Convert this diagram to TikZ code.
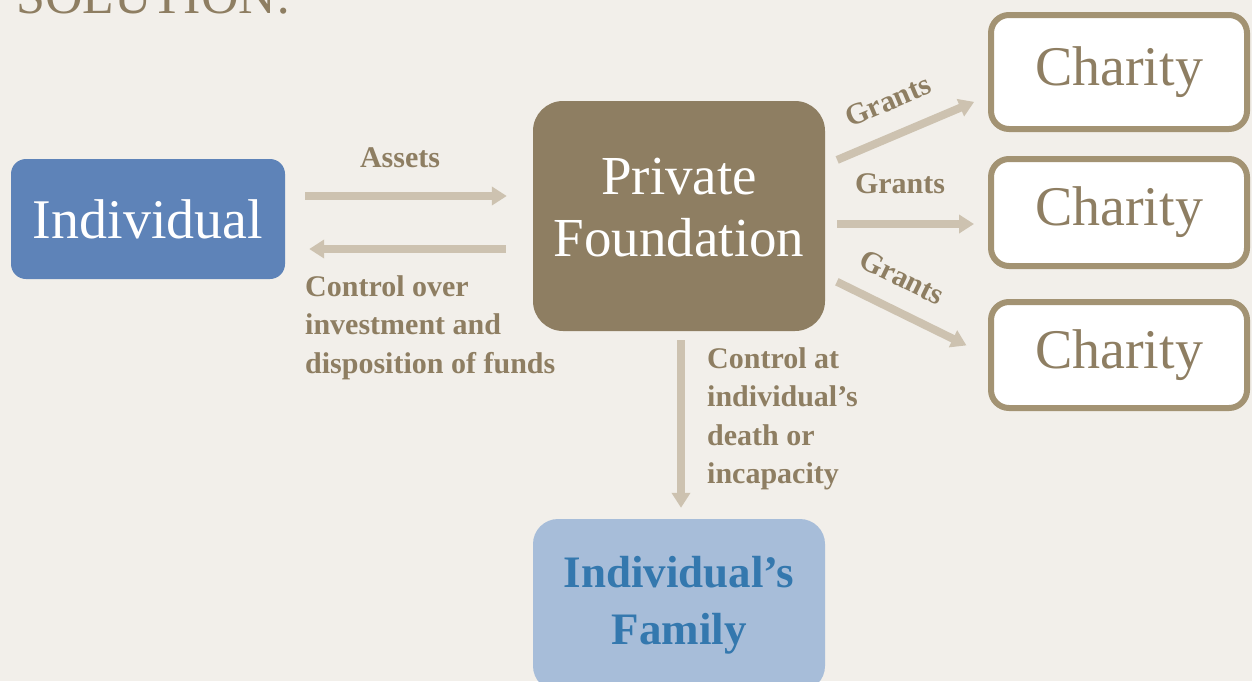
\documentclass[tikz,border=0pt]{standalone}
\usepackage{fontspec}
\setmainfont{Liberation Serif}
\usetikzlibrary{arrows.meta}
\usetikzlibrary{positioning}

\definecolor{bgc}{RGB}{242,239,234}
\definecolor{tanc}{RGB}{142,126,98}
\definecolor{arrowc}{RGB}{205,194,176}
\definecolor{charline}{RGB}{163,147,115}
\definecolor{indc}{RGB}{94,131,184}
\definecolor{famc}{RGB}{167,189,217}
\definecolor{famtext}{RGB}{52,120,174}

\begin{document}
\begin{tikzpicture}[x=1pt,y=-1pt,
              flow/.style={draw=arrowc,line width=8pt,-{Triangle[length=15pt,width=18pt]}},
              lbl/.style={text=tanc,inner sep=0pt,font=\bfseries\fontsize{30}{38.5}\selectfont},
              charity/.style={draw=charline,line width=6pt,fill=white,rounded corners=18pt,
                minimum width=256pt,inner sep=0pt,text=tanc,font=\fontsize{56}{62}\selectfont}]
  \clip (0,0) rectangle (1252,681);
  \fill[bgc] (0,0) rectangle (1252,681);

  \node[anchor=base west,inner sep=0pt,text=tanc,font=\fontsize{52}{60}\selectfont] (title) at (16,13) {SOLUTION:};

  % boxes
  \node[fill=indc,rounded corners=15pt,minimum width=274pt,minimum height=120pt,
        text=white,font=\fontsize{56}{62}\selectfont] (ind) at (148,219) {Individual};
  \node[fill=tanc,rounded corners=30pt,minimum width=292pt,minimum height=230pt,text depth=18pt,
        text=white,align=center,font=\fontsize{55}{62}\selectfont] (pf) at (679,216) {Private\\Foundation};
  \node[fill=famc,rounded corners=25pt,minimum width=292pt,minimum height=172pt,
        text=famtext,align=center,font=\bfseries\fontsize{45}{57}\selectfont] (fam) at (679,605) {Individual’s\\Family};
  \node[charity,minimum height=114pt] (ch1) at (1119,72) {Charity};
  \node[charity,minimum height=107pt] (ch2) at (1119,212.5) {Charity};
  \node[charity,minimum height=106pt] (ch3) at (1119,355) {Charity};

  % arrows
  \draw[flow,shorten <=20pt,shorten >=26pt] ([yshift=23pt]ind.east) -- ([yshift=20pt]pf.west);
  \draw[flow,shorten <=27pt,shorten >=24pt] ([yshift=-33pt]pf.west) -- ([yshift=-30pt]ind.east);
  \draw[flow,shorten <=13pt,shorten >=15pt] ([yshift=51pt]pf.east) -- ([yshift=-24pt]ch1.west);
  \draw[flow,shorten <=12pt,shorten >=14pt] ([yshift=-8pt]pf.east) -- ([yshift=-11.5pt]ch2.west);
  \draw[flow,shorten <=13pt,shorten >=24pt] ([yshift=-60pt]pf.east) -- ([yshift=-1pt]ch3.west);
  \draw[flow,shorten <=9pt,shorten >=11pt] ([xshift=2pt]pf.south) -- ([xshift=2pt]fam.north);

  % labels
  \node[lbl,anchor=base] (assets) at (400,167) {Assets};
  \node[lbl,anchor=north west,align=left] (ctrl) at (305,275) {Control over\\investment and\\disposition of funds};
  \node[lbl,rotate=23] (g1) at (888,101) {Grants};
  \node[lbl,anchor=base] (g2) at (900,193) {Grants};
  \node[lbl,rotate=-26] (g3) at (902,277) {Grants};
  \node[lbl,anchor=north west,align=left] (death) at (707,347) {Control at\\individual’s\\death or\\incapacity};
\end{tikzpicture}
\end{document}
